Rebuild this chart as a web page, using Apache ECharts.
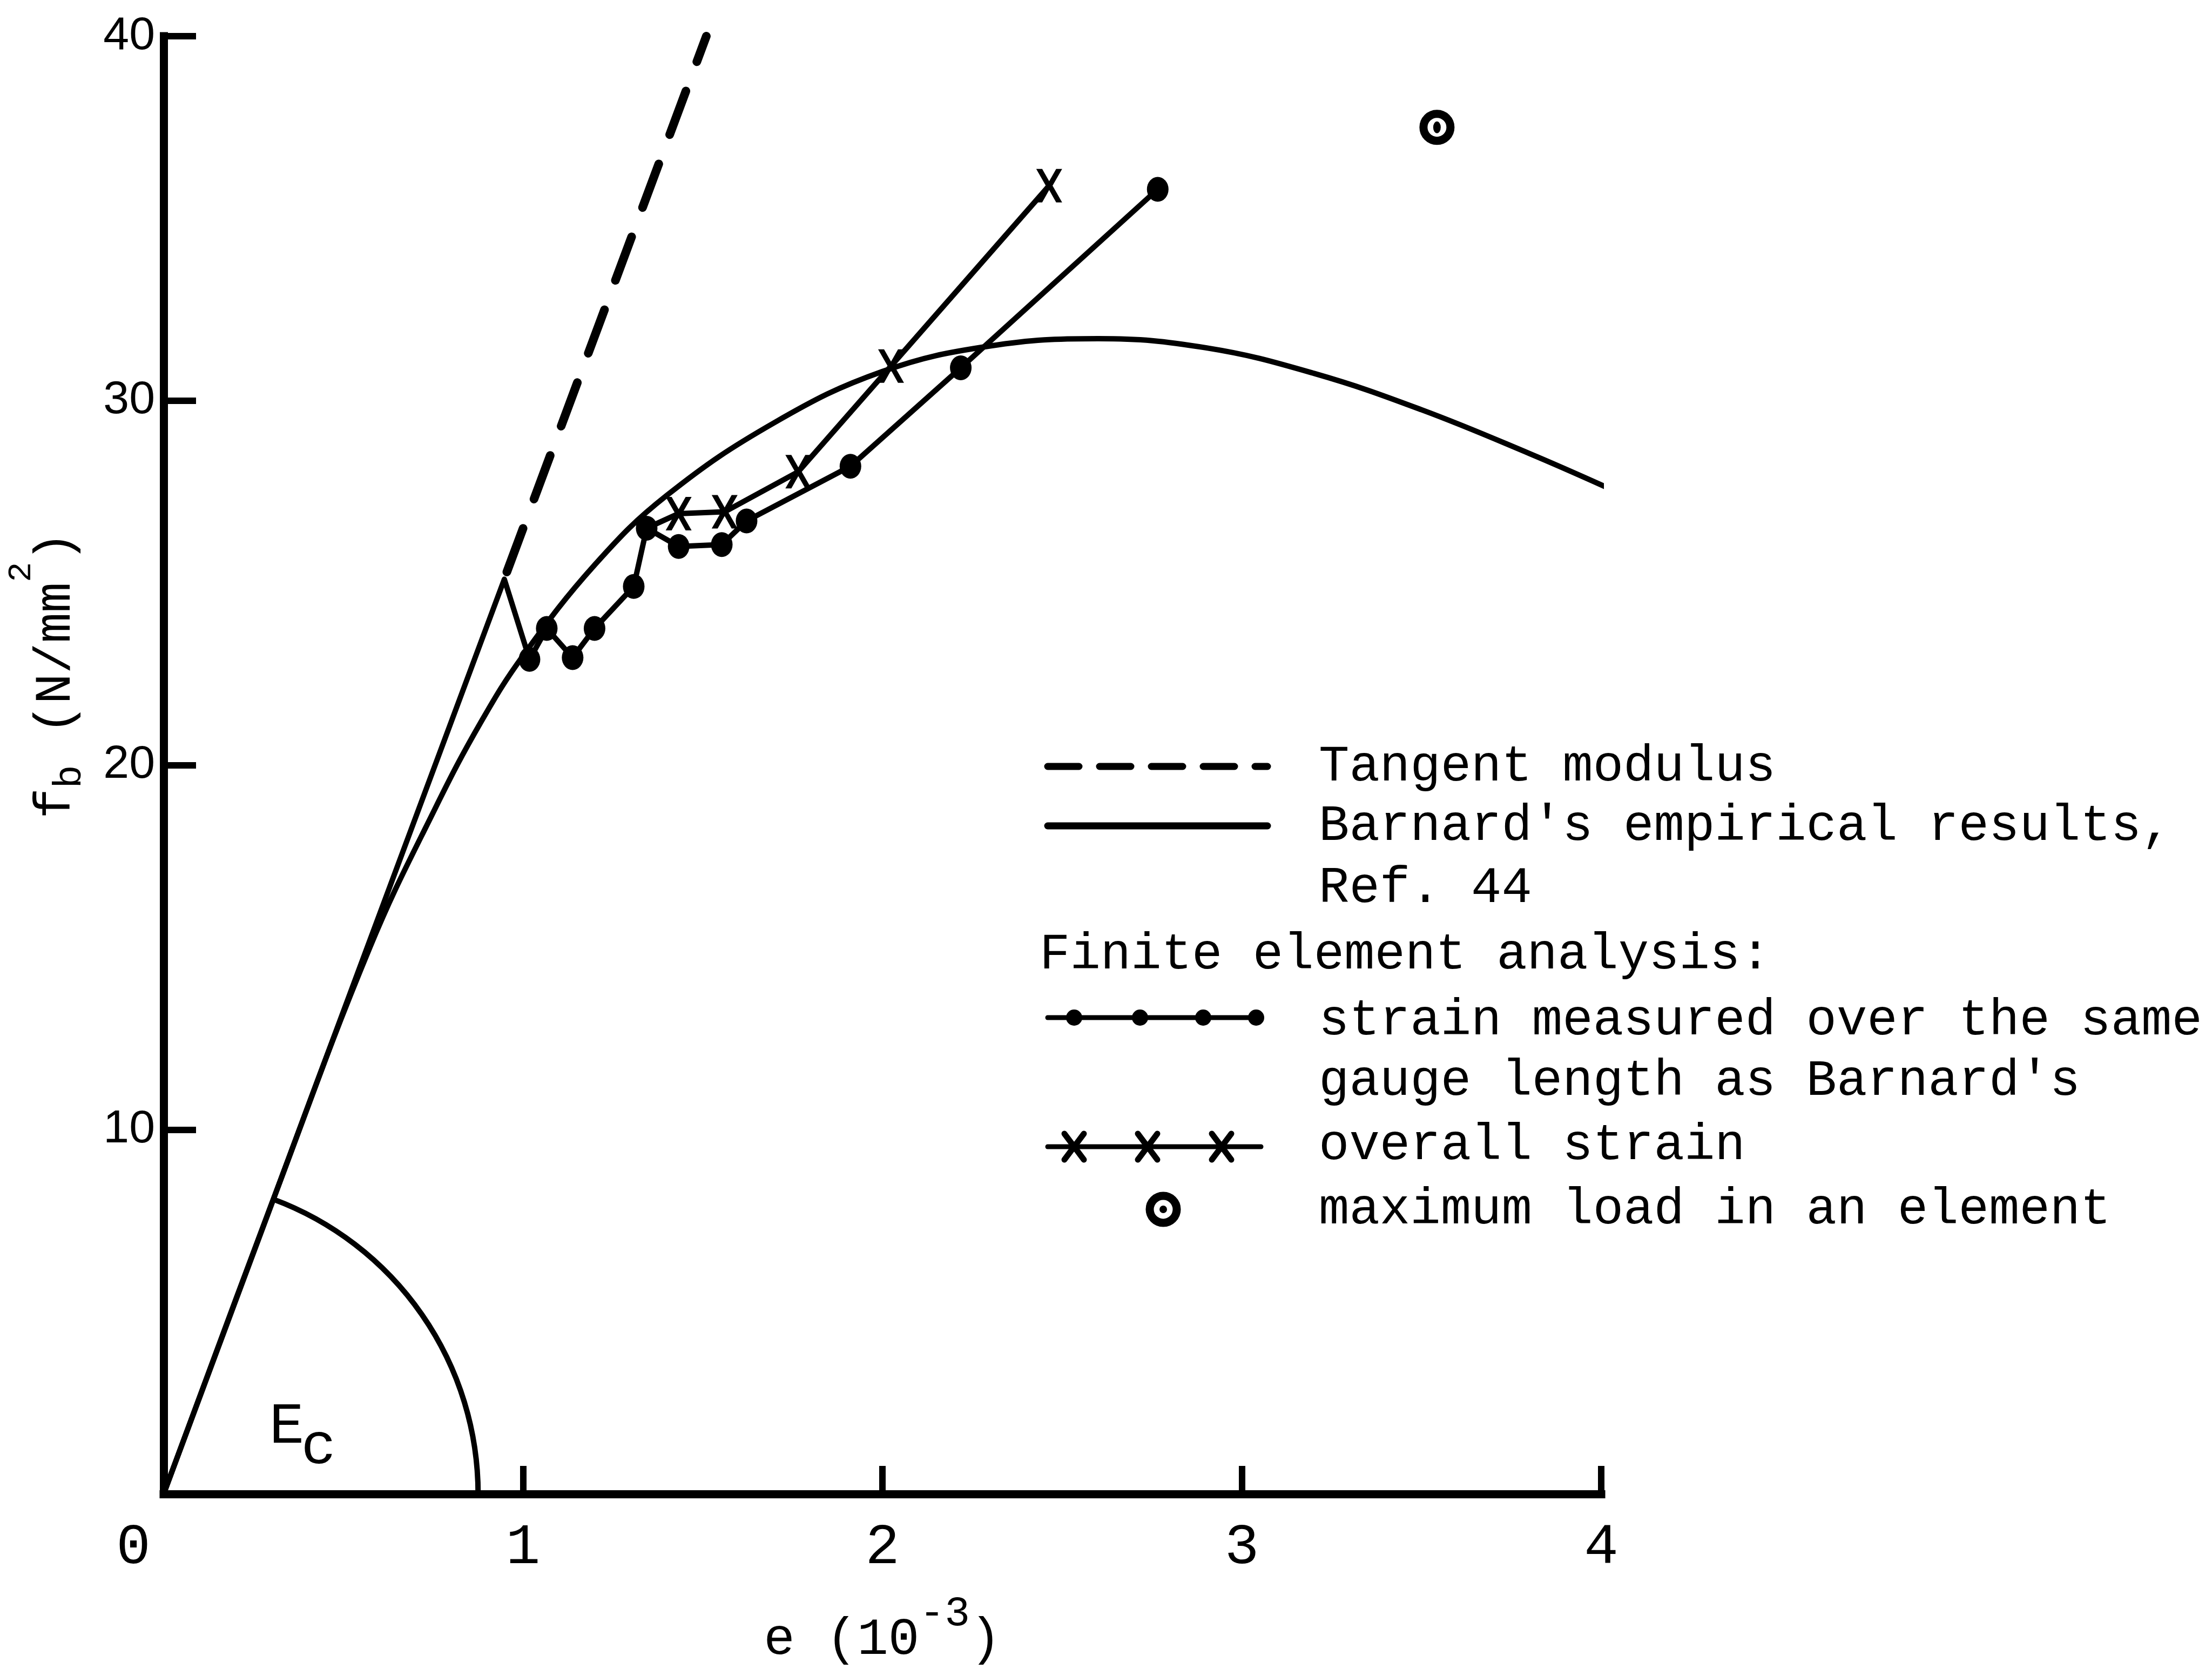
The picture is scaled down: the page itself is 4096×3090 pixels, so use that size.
<!DOCTYPE html>
<html>
<head>
<meta charset="utf-8">
<title>fb - e</title>
<script src="https://cdn.jsdelivr.net/npm/echarts@6/dist/echarts.min.js"></script>
<style>
    html, body { margin: 0; padding: 0; background: #fff; }
    #main { width: 4096px; height: 3090px; }
</style>
</head>
<body>
<div id="main"></div>
<script>
    // axis ticks
    const xTicks = [0, 1, 2, 3, 4];
    const yTicks = [0, 10, 20, 30, 40];

    // Barnard's empirical results, Ref. 44  [e (1e-3), fb (N/mm2)]
    const barnard = [
        [0, 0], [0.3, 7.95], [0.574, 15.0], [0.755, 18.8], [0.884, 21.2], [1.0, 23.0],
        [1.2, 25.5], [1.4, 27.4], [1.7, 29.4], [2.0, 30.8], [2.3, 31.5], [2.6, 31.7],
        [2.9, 31.45], [3.2, 30.75], [3.5, 29.75], [3.8, 28.55], [4.02, 27.6]
    ];

    // tangent modulus (dashed part above the FE peak)
    const tangent = [[0.955, 25.3], [1.51, 40]];

    // FE: strain over Barnard's gauge length (first two vertices carry no marker)
    const gaugePath = [[0, 0], [0.948, 25.1]];
    const gaugeDots = [
        [1.018, 22.9], [1.066, 23.75], [1.138, 22.95], [1.199, 23.75], [1.308, 24.9],
        [1.344, 26.5], [1.433, 26.0], [1.553, 26.05], [1.622, 26.7], [1.911, 28.2],
        [2.218, 30.9], [2.766, 35.8]
    ];

    // FE: overall strain
    const overallStart = [[1.344, 26.5]];
    const overallPts = [[1.433, 26.9], [1.561, 26.95], [1.766, 28.05], [2.024, 30.95], [2.464, 35.9]];

    // maximum load in an element
    const maxLoad = [[3.543, 37.5]];

    // where the Ec arc meets the e axis
    const arcEnd = 0.875;

    const MONO = '"Liberation Mono", "DejaVu Sans Mono", monospace';
    const SANS = '"Liberation Sans", Arial, sans-serif';
    const crossPath = 'path://M0,0L4.6,0L10,7.4L15.4,0L20,0L12.6,10L20,20L15.4,20L10,12.6L4.6,20L0,20L7.4,10Z';

    const lineBase = { color: '#000', width: 10, cap: 'round', join: 'round' };

    const option = {
        animation: false,
        backgroundColor: '#fff',
        grid: { left: 303, right: 1131, top: 67, bottom: 313 },
        xAxis: {
            type: 'value',
            min: xTicks[0],
            max: xTicks[xTicks.length - 1],
            interval: 1,
            name: '{m|e (10}{s|-3}{m|)}',
            nameLocation: 'middle',
            nameGap: 183,
            nameTextStyle: {
                color: '#000',
                fontFamily: MONO,
                fontSize: 96,
                rich: {
                    m: { fontFamily: MONO, fontSize: 96, lineHeight: 176, color: '#000' },
                    s: { fontFamily: MONO, fontSize: 78, lineHeight: 80, verticalAlign: 'top', color: '#000' }
                }
            },
            axisLine: { lineStyle: { color: '#000', width: 15, cap: 'square' } },
            axisTick: { inside: true, length: 52, lineStyle: { color: '#000', width: 12 } },
            axisLabel: {
                margin: 47,
                color: '#000',
                fontFamily: MONO,
                fontSize: 106,
                formatter: v => v === 0 ? '{z|0}' : String(v),
                rich: { z: { fontFamily: MONO, fontSize: 106, color: '#000', padding: [0, 112, 0, 0] } }
            },
            splitLine: { show: false }
        },
        yAxis: {
            type: 'value',
            min: yTicks[0],
            max: yTicks[yTicks.length - 1],
            interval: 10,
            axisLine: { lineStyle: { color: '#000', width: 15, cap: 'square' } },
            axisTick: { inside: true, length: 60, lineStyle: { color: '#000', width: 12 } },
            axisLabel: {
                margin: 16,
                color: '#000',
                fontFamily: SANS,
                fontSize: 86,
                formatter: v => v === 0 ? '' : String(v)
            },
            splitLine: { show: false }
        },
        series: [
            {
                name: "Barnard's empirical results",
                type: 'line',
                smooth: 0.4,
                symbol: 'none',
                clip: false,
                lineStyle: lineBase,
                data: barnard
            },
            {
                name: 'Tangent modulus',
                type: 'line',
                symbol: 'none',
                lineStyle: { color: '#000', width: 16, type: [86, 58], cap: 'round' },
                data: tangent
            },
            {
                name: 'strain measured over the same gauge length',
                type: 'line',
                symbol: 'circle',
                symbolSize: [40, 46],
                showAllSymbol: true,
                itemStyle: { color: '#000' },
                lineStyle: lineBase,
                data: gaugePath.map(p => ({ value: p, symbol: 'none' })).concat(gaugeDots)
            },
            {
                name: 'overall strain',
                type: 'line',
                symbol: crossPath,
                symbolSize: [48, 62],
                showAllSymbol: true,
                itemStyle: { color: '#000' },
                lineStyle: lineBase,
                data: overallStart.map(p => ({ value: p, symbol: 'none' })).concat(overallPts)
            },
            {
                name: 'maximum load in an element',
                type: 'scatter',
                symbol: 'circle',
                symbolSize: 50,
                itemStyle: { color: '#fff', borderColor: '#000', borderWidth: 15, opacity: 1 },
                data: maxLoad
            },
            {
                name: 'maximum load centre',
                type: 'scatter',
                symbol: 'circle',
                symbolSize: [14, 22],
                itemStyle: { color: '#000', opacity: 1 },
                z: 3,
                data: maxLoad
            }
        ]
    };

    const chart = echarts.init(document.getElementById('main'));
    chart.setOption(option);

    // legend and annotations
    const txt = (x, y, text, size, align) => ({
        type: 'text', x: x, y: y,
        style: {
            text: text, fill: '#000', font: (size || 94) + 'px ' + MONO,
            align: align || 'left', verticalAlign: 'middle'
        }
    });
    const seg = (x1, y1, x2, y2, w, dash) => ({
        type: 'line',
        shape: { x1: x1, y1: y1, x2: x2, y2: y2 },
        style: { stroke: '#000', lineWidth: w, lineCap: 'round', lineDash: dash || null }
    });
    const dot = (cx, cy, r) => ({ type: 'circle', shape: { cx: cx, cy: cy, r: r }, style: { fill: '#000' } });
    const cross = (cx, cy) => [seg(cx - 18, cy - 24, cx + 18, cy + 24, 11), seg(cx - 18, cy + 24, cx + 18, cy - 24, 11)];

    const origin = chart.convertToPixel({ gridIndex: 0 }, [0, 0]);
    const peak = chart.convertToPixel({ gridIndex: 0 }, gaugePath[1]);
    const arcFoot = chart.convertToPixel({ gridIndex: 0 }, [arcEnd, 0]);
    const arcR = arcFoot[0] - origin[0];
    const arcAngle = Math.atan2(peak[1] - origin[1], peak[0] - origin[0]);

    // y axis title, built along the text direction then turned upright
    const ch = 0.6;
    const yName = [['f', 94, 0], ['b', 72, 26], [' (N/mm', 94, 0], ['2', 62, -64], [')', 94, 0]];
    const yNameWidth = yName.reduce((s, t) => s + t[0].length * t[1] * ch, 0);
    let cursor = -yNameWidth / 2;
    const yNameParts = yName.map(t => {
        const el = txt(cursor, t[2], t[0], t[1]);
        cursor += t[0].length * t[1] * ch;
        return el;
    });

    const graphics = [
        {
            type: 'arc',
            shape: { cx: origin[0], cy: origin[1], r: arcR, startAngle: arcAngle, endAngle: 0, clockwise: true },
            style: { stroke: '#000', lineWidth: 10, fill: null }
        },
        txt(531, 2642, 'E', 108, 'center'),
        txt(590, 2680, 'c', 108, 'center'),
        { type: 'group', x: 104, y: 1250, rotation: Math.PI / 2, children: yNameParts },

        // legend samples
        seg(1940, 1419, 2347, 1419, 13, [58, 38]),
        seg(1940, 1529, 2347, 1529, 13),
        seg(1940, 1884, 2326, 1884, 9),
        dot(1989, 1884, 15), dot(2111, 1884, 15), dot(2228, 1884, 15), dot(2326, 1884, 15),
        seg(1940, 2123, 2335, 2123, 9),
        ...cross(1989, 2123), ...cross(2125, 2123), ...cross(2262, 2123),
        { type: 'circle', shape: { cx: 2154, cy: 2239, r: 25 }, style: { fill: '#fff', stroke: '#000', lineWidth: 15 } },
        { type: 'circle', shape: { cx: 2154, cy: 2239, r: 7 }, style: { fill: '#000' } },

        // legend texts
        txt(2442, 1420, 'Tangent modulus'),
        txt(2442, 1530, "Barnard's empirical results,"),
        txt(2442, 1645, 'Ref. 44'),
        txt(1925, 1768, 'Finite element analysis:'),
        txt(2442, 1890, 'strain measured over the same'),
        txt(2442, 2002, "gauge length as Barnard's"),
        txt(2442, 2121, 'overall strain'),
        txt(2442, 2240, 'maximum load in an element')
    ];

    chart.setOption({ graphic: { elements: graphics } });
</script>
</body>
</html>
